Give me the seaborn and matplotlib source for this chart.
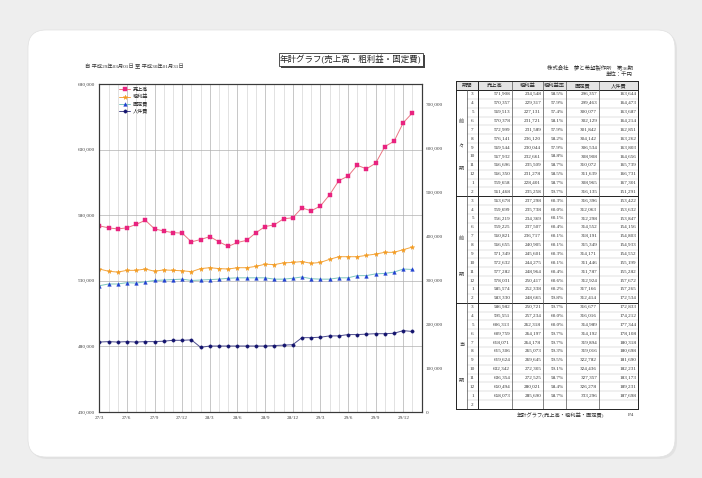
import numpy as np
import pandas as pd
import matplotlib
matplotlib.use("Agg")
import matplotlib.pyplot as plt
import seaborn as sns
from matplotlib.patches import FancyBboxPatch, Rectangle
from matplotlib.lines import Line2D
from matplotlib.ticker import FuncFormatter

sns.set_style("white")
plt.rcParams["font.family"] = ["Liberation Serif", "Noto Sans CJK JP", "DejaVu Sans"]

# ---- table data (千円) : 前々期 / 前期 / 当期, months 3 .. 2 ----
period_months = [3, 4, 5, 6, 7, 8, 9, 10, 11, 12, 1, 2]
block_names = ["前々期", "前期", "当期"]

sales = [571908, 570357, 569513, 570378, 572999, 576141, 569544, 567932, 566696, 566350, 559658, 561468,
         563678, 559699, 556219, 559225, 560821, 566655, 571349, 572632, 577282, 578031, 585574, 583330,
         586982, 595551, 606313, 609759, 618071, 615306, 619624, 632342, 636354, 650494, 658073]
gross = [234548, 229317, 227131, 231721, 231589, 236120, 230044, 232661, 235509, 231278, 228401, 235258,
         237298, 235738, 234369, 237507, 236717, 240905, 245601, 244275, 248964, 250417, 252338, 248665,
         250721, 257234, 262318, 264197, 264178, 265073, 269645, 272305, 272525, 280021, 285690]
gross_rate = [58.5, 57.9, 57.4, 58.1, 57.9, 58.2, 57.9, 58.8, 58.7, 58.5, 58.7, 59.7,
              60.3, 60.0, 60.1, 60.4, 60.1, 60.1, 60.3, 60.1, 60.4, 60.6, 60.2, 59.8,
              59.7, 60.0, 60.0, 59.7, 59.7, 59.3, 59.5, 59.1, 58.7, 58.4, 58.7]
fixed = [296357, 299463, 300077, 302129, 301842, 304142, 306534, 308908, 310072, 311639, 308965, 316135,
         316396, 312063, 312298, 314552, 318191, 315349, 314171, 311446, 311787, 312924, 317166, 312414,
         316677, 316016, 314989, 314192, 319894, 319016, 322782, 324436, 327357, 326278, 333296]
personnel = [163644, 164473, 163687, 164214, 162851, 163262, 163803, 164656, 165739, 166731, 167301, 151291,
             153422, 153632, 153847, 154156, 154803, 154933, 154552, 155199, 155282, 157672, 157265, 172534,
             172833, 174212, 177344, 178108, 180318, 180698, 181690, 182231, 183173, 189231, 187698]

# ---- chart series on the right axis ----
chart_gross = [325000, 320000, 318000, 322000, 322000, 325000, 320000, 323000, 322000, 321000, 319000, 326000,
               328000, 326000, 325000, 328000, 328000, 331000, 336000, 335000, 339000, 340000, 342000, 338000,
               340000, 347000, 353000, 353000, 353000, 356000, 359000, 363000, 363000, 369000, 375000]
chart_fixed = [287000, 291000, 291000, 294000, 293000, 296000, 299000, 300000, 301000, 302000, 299000, 300000,
               301000, 302000, 304000, 305000, 305000, 305000, 305000, 302000, 302000, 304000, 307000, 303000,
               302000, 302000, 305000, 305000, 310000, 310000, 314000, 315000, 318000, 325000, 324000]
chart_personnel = [159000, 160000, 159000, 160000, 159000, 160000, 160000, 161000, 163000, 163000, 164000, 147000,
                   150000, 150000, 150000, 150000, 150000, 150000, 150000, 151000, 152000, 153000, 169000, 169000,
                   170000, 173000, 173000, 176000, 176000, 177000, 178000, 178000, 179000, 185000, 183000]

x_ticklabels = ["27/3", "27/6", "27/9", "27/12", "28/3", "28/6", "28/9", "28/12",
                "29/3", "29/6", "29/9", "29/12"]
legend_labels = ["売上高", "粗利益", "固定費", "人件費"]

W, H = 702, 478
fig = plt.figure(figsize=(W / 100, H / 100), dpi=100, facecolor="#eeeeee")

# background layer in pixel coordinates
bg = fig.add_axes([0, 0, 1, 1], zorder=0)
bg.set_xlim(0, W)
bg.set_ylim(H, 0)
bg.axis("off")
bg.add_patch(FancyBboxPatch((30, 32), 647, 427, boxstyle="round,pad=0,rounding_size=18",
                            fc="#e2e2e2", ec="none"))
bg.add_patch(FancyBboxPatch((28, 30), 647, 427, boxstyle="round,pad=0,rounding_size=18",
                            fc="white", ec="#e0e0e0", lw=0.5))

# title box with shadow
bg.add_patch(Rectangle((280.5, 55), 144, 13, fc="#444444", ec="none"))
bg.add_patch(Rectangle((278.5, 53), 144, 13, fc="white", ec="#333333", lw=0.6))
bg.text(350.5, 59.7, "年計グラフ(売上高・粗利益・固定費)", fontsize=6.1, ha="center", va="center",
        color="#222222")
bg.text(85, 67, "自 平成29年03月01日 至 平成30年01月31日", fontsize=3.8, ha="left", va="center",
        color="#333333")
bg.text(633, 67, "株式会社　夢と希望製作所　第36期", fontsize=3.9, ha="right", va="center", color="#333333")
bg.text(633, 74.5, "単位：千円", fontsize=3.9, ha="right", va="center", color="#333333")
bg.text(604, 415.5, "年計グラフ(売上高・粗利益・固定費)", fontsize=3.8, ha="right", va="center",
        color="#333333")
bg.text(634, 415.5, "P.4", fontsize=3.8, ha="right", va="center", color="#333333")

# ---- table ----
col_edges = [456, 467, 478, 512, 543, 566, 599, 638]
header_top, header_bot, table_bot = 81, 90, 409
row_h = (table_bot - header_bot) / 36
headers = ["売上高", "粗利益", "粗利益率", "固定費", "人件費"]

bg.add_patch(Rectangle((col_edges[0], header_top), col_edges[-1] - col_edges[0], header_bot - header_top,
                       fc="#e4e4e4", ec="none"))
bg.text((col_edges[0] + col_edges[2]) / 2, (header_top + header_bot) / 2, "期間", fontsize=3.8,
        ha="center", va="center", color="#222222")
for j, h in enumerate(headers):
    bg.text((col_edges[j + 2] + col_edges[j + 3]) / 2, (header_top + header_bot) / 2, h, fontsize=3.8,
            ha="center", va="center", color="#222222")

tfs = 3.7
for b in range(3):
    top = header_bot + b * 12 * row_h
    for r in range(12):
        i = b * 12 + r
        yc = top + (r + 0.5) * row_h
        if r > 0:
            bg.plot([col_edges[1], col_edges[-1]], [top + r * row_h] * 2, color="#b8b8b8", lw=0.3)
        bg.text((col_edges[1] + col_edges[2]) / 2, yc, str(period_months[r]), fontsize=tfs,
                ha="center", va="center", color="#333333")
        if i < len(sales):
            vals = [f"{sales[i]:,}", f"{gross[i]:,}", f"{gross_rate[i]:.1f}%", f"{fixed[i]:,}",
                    f"{personnel[i]:,}"]
            for j, v in enumerate(vals):
                bg.text(col_edges[j + 3] - 1.8, yc, v, fontsize=tfs, ha="right", va="center",
                        color="#333333")
    name = block_names[b]
    fracs = [0.3, 0.52, 0.74] if len(name) == 3 else [0.4, 0.74]
    for ch, f in zip(name, fracs):
        bg.text((col_edges[0] + col_edges[1]) / 2, top + f * 12 * row_h, ch, fontsize=3.7,
                ha="center", va="center", color="#333333")
    bg.plot([col_edges[0], col_edges[-1]], [top, top], color="#222222", lw=0.7)

for k, xe in enumerate(col_edges):
    if k == 1:
        bg.plot([xe, xe], [header_bot, table_bot], color="#555555", lw=0.5)
    elif k in (0, 2, 7):
        bg.plot([xe, xe], [header_top, table_bot], color="#222222", lw=0.7)
    else:
        bg.plot([xe, xe], [header_top, table_bot], color="#555555", lw=0.5)
bg.plot([col_edges[0], col_edges[-1]], [header_top, header_top], color="#222222", lw=0.7)
bg.plot([col_edges[0], col_edges[-1]], [table_bot, table_bot], color="#222222", lw=0.7)

# ---- chart ----
x_left, x_right, y_top, y_bot = 99.3, 421.7, 84, 412
ax = fig.add_axes([x_left / W, 1 - y_bot / H, (x_right - x_left) / W, (y_bot - y_top) / H], zorder=1)
ax.set_facecolor("white")
ax2 = ax.twinx()

months = np.arange(len(sales))
df = pd.DataFrame({"month": months, "sales": sales, "gross": chart_gross,
                   "fixed": chart_fixed, "personnel": chart_personnel})

styles = [
    ("sales", ax, "#ea7482", "#e8237f", "s", 2.4),
    ("gross", ax2, "#f3a53e", "#f39a1e", "*", 3.4),
    ("fixed", ax2, "#7cc6bd", "#1f3fd0", "^", 2.6),
    ("personnel", ax2, "#4b4b8c", "#14146e", "o", 2.4),
]
handles = []
for col, a, lc, mc, m, ms in styles:
    sns.lineplot(data=df, x="month", y=col, ax=a, color=lc, linewidth=0.7, marker=m, markersize=ms,
                 markerfacecolor=mc, markeredgecolor=mc, markeredgewidth=0.3)
    handles.append(Line2D([], [], color=lc, lw=0.7, marker=m, markersize=ms, markerfacecolor=mc,
                          markeredgecolor=mc, markeredgewidth=0.3))

ax.set_xlim(0, 35)
ax.set_ylim(430000, 680000)
ax.set_yticks(range(430000, 680001, 50000))
ax.set_xticks(range(0, 34, 3))
ax.set_xticklabels(x_ticklabels)
ax.set_xticks(range(0, 36), minor=True)
ax2.set_ylim(0, 745600)
ax2.set_yticks(range(0, 700001, 100000))

fmt = FuncFormatter(lambda v, p: f"{v:,.0f}")
ax.yaxis.set_major_formatter(fmt)
ax2.yaxis.set_major_formatter(fmt)

ax.set_axisbelow(True)
ax.grid(which="minor", axis="x", color="#d6d6d6", lw=0.5)
ax.grid(which="major", axis="x", color="#b0b0b0", lw=0.5)
ax.grid(which="major", axis="y", color="#b0b0b0", lw=0.5)
ax2.grid(False)

for a in (ax, ax2):
    a.set_xlabel("")
    a.set_ylabel("")
    for s in a.spines.values():
        s.set_color("#3a3a3a")
        s.set_linewidth(0.8)
ax.tick_params(axis="x", which="both", length=0, labelsize=3.8, pad=3, colors="#444444")
ax.tick_params(axis="y", length=0, labelsize=3.8, pad=3, colors="#444444")
ax2.tick_params(axis="y", length=0, labelsize=3.8, pad=3, colors="#444444")

ax2.legend(handles, legend_labels, loc="upper left", bbox_to_anchor=(0.055, 0.995), frameon=False,
           fontsize=3.7, handlelength=2.2, handletextpad=0.5, labelspacing=0.45, borderaxespad=0)

fig.savefig("out.png", dpi=100, facecolor=fig.get_facecolor())
